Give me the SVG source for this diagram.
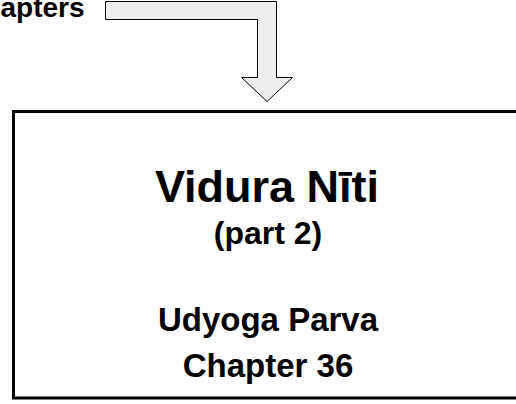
<svg xmlns="http://www.w3.org/2000/svg" width="516" height="404" viewBox="0 0 516 404">
<style>
text{font-family:"Liberation Sans",Arial,sans-serif;font-weight:bold;fill:#000;text-anchor:middle}
.box{fill:#fff;stroke:#000;stroke-width:3}
.arrow{fill:#eeeeee;stroke:#000;stroke-width:1}
</style>
<rect width="516" height="404" fill="#fff"/>
<g id="prev">
<text x="84.5" y="17" style="text-anchor:end;font-size:28px">Chapters</text>
</g>
<g id="connectors">
<path class="arrow" d="M105.5,1.5 H276.5 V77.5 H292.5 L267,101.5 L241.5,77.5 H257.5 V19.5 H105.5 Z"/>
</g>
<g id="main">
<rect class="box" x="13.5" y="111.5" width="520" height="286.5"/>
<text x="267" y="202" style="font-size:45px">Vidura Nīti</text>
<text x="268" y="244" style="font-size:32px">(part 2)</text>
<text x="268" y="331" style="font-size:33px">Udyoga Parva</text>
<text x="268" y="377" style="font-size:33px">Chapter 36</text>
</g>
</svg>
